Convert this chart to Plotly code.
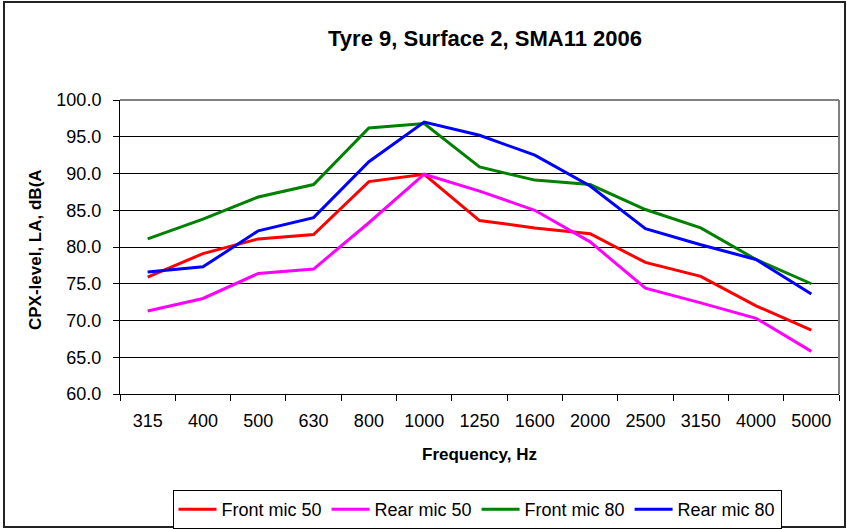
import plotly.graph_objects as go

freq = ["315", "400", "500", "630", "800", "1000", "1250", "1600", "2000", "2500", "3150", "4000", "5000"]
front_mic_50 = [75.9, 79.1, 81.1, 81.7, 88.9, 89.9, 83.6, 82.6, 81.8, 77.9, 76.0, 72.0, 68.7]
rear_mic_50 = [71.3, 73.0, 76.4, 77.0, 83.3, 89.9, 87.6, 85.0, 80.7, 74.4, 72.4, 70.3, 65.8]
front_mic_80 = [81.1, 83.8, 86.8, 88.5, 96.2, 96.8, 90.9, 89.1, 88.5, 85.1, 82.6, 78.3, 75.0]
rear_mic_80 = [76.6, 77.3, 82.2, 84.0, 91.6, 97.0, 95.2, 92.5, 88.3, 82.5, 80.3, 78.3, 73.6]

series = [
    ("Front mic 50", front_mic_50, "#FF0000"),
    ("Rear mic 50", rear_mic_50, "#FF00FF"),
    ("Front mic 80", front_mic_80, "#008000"),
    ("Rear mic 80", rear_mic_80, "#0000FF"),
]

FONT = "Liberation Sans, Arial, sans-serif"

fig = go.Figure()
for name, vals, color in series:
    fig.add_trace(go.Scatter(x=freq, y=vals, name=name, mode="lines",
                             line=dict(color=color, width=3)))

W, H = 847, 529
L, R, T, B = 120, 8, 100, 135
pw, ph = W - L - R, H - T - B

def px(x):
    return (x - L) / pw

def py(y):
    return (H - B - y) / ph

fig.update_layout(
    width=W, height=H,
    margin=dict(l=L, r=R, t=T, b=B, autoexpand=False),
    paper_bgcolor="white", plot_bgcolor="white",
    font=dict(family=FONT, size=18, color="black"),
    title=dict(text="<b>Tyre 9, Surface 2, SMA11 2006</b>", x=430 / W, y=1 - 38 / H,
               xanchor="center", yanchor="middle", xref="paper",
               font=dict(family=FONT, size=22, color="black")),
    showlegend=True,
    legend=dict(orientation="h", x=px(477), xanchor="center", y=py(490), yanchor="top",
                bordercolor="black", borderwidth=1, bgcolor="white", itemwidth=38,
                font=dict(family=FONT, size=18, color="black")),
    xaxis=dict(type="category", range=[-0.5, len(freq) - 0.5], tickson="boundaries",
               ticks="outside", ticklen=6, ticklabelstandoff=10,
               tickcolor="black", showline=True, linecolor="black", linewidth=1,
               showgrid=False, tickfont=dict(family=FONT, size=18, color="black")),
    yaxis=dict(range=[60, 100], dtick=5, tick0=60, tickformat=".1f", ticks="outside",
               ticklen=6, ticklabelstandoff=8, tickcolor="black", showline=True,
               linecolor="black", linewidth=1,
               showgrid=True, gridcolor="black", gridwidth=1, zeroline=False,
               tickfont=dict(family=FONT, size=18, color="black")),
    annotations=[
        dict(text="<b>CPX-level, LA, dB(A</b>", x=px(35), y=py(250), xref="paper", yref="paper",
             textangle=-90, showarrow=False, xanchor="center", yanchor="middle",
             font=dict(family=FONT, size=17, color="black")),
        dict(text="<b>Frequency, Hz</b>", x=px(479), y=py(455), xref="paper", yref="paper",
             showarrow=False, xanchor="center", yanchor="middle",
             font=dict(family=FONT, size=17, color="black")),
    ],
    shapes=[
        dict(type="line", xref="paper", yref="paper", x0=0, x1=1, y0=1, y1=1,
             line=dict(color="#808080", width=2)),
        dict(type="line", xref="paper", yref="paper", x0=1, x1=1, y0=0, y1=1,
             line=dict(color="#808080", width=2)),
        dict(type="rect", xref="paper", yref="paper", x0=px(4), x1=px(845), y0=py(527), y1=py(2),
             line=dict(color="#222222", width=2), fillcolor="rgba(0,0,0,0)"),
    ],
)

fig.write_html("out.html", config={"displayModeBar": False},
               post_script="document.body.style.margin='0';")
